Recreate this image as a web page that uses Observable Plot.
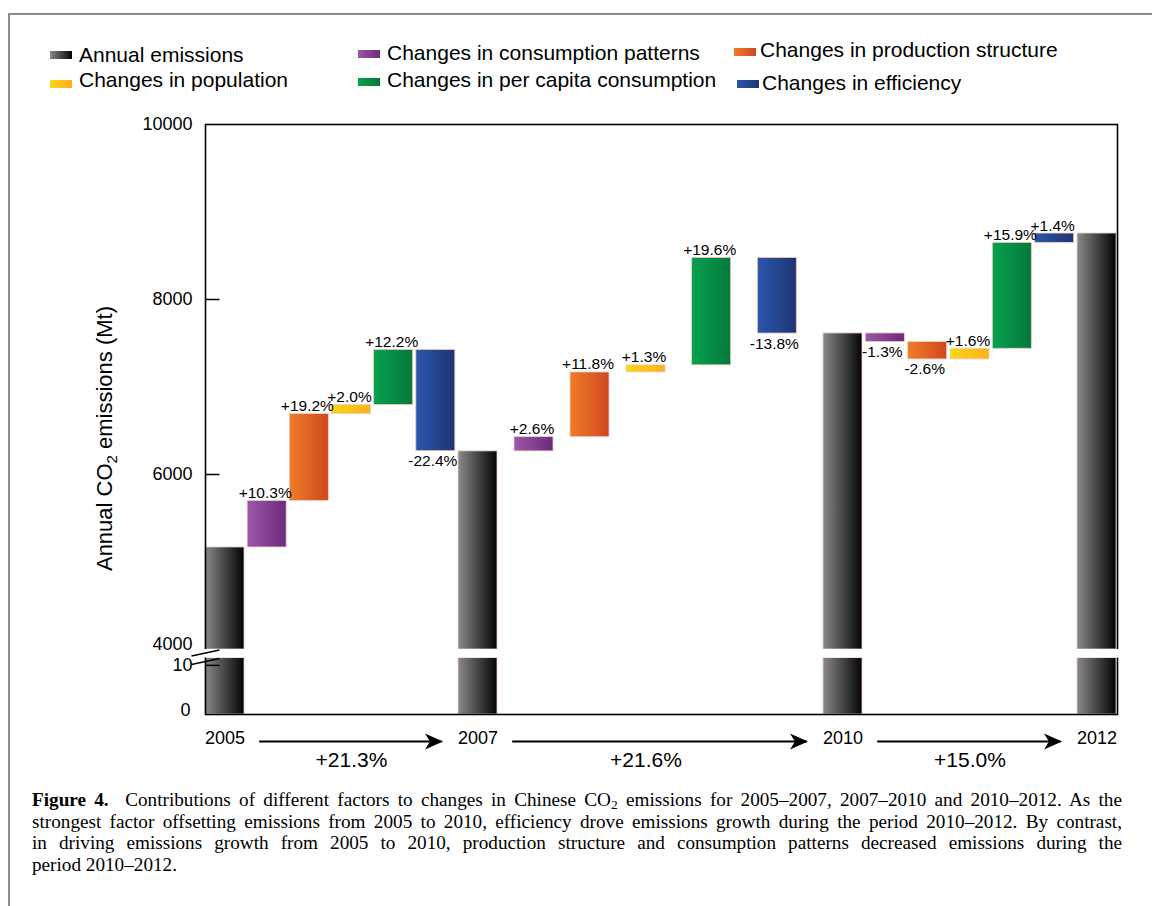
<!DOCTYPE html>
<html>
<head>
<meta charset="utf-8">
<script src="https://cdn.jsdelivr.net/npm/d3@7"></script>
<script src="https://cdn.jsdelivr.net/npm/@observablehq/plot@0.6"></script>
<style>
  html, body { margin: 0; padding: 0; background: #fff; }
  body { width: 1152px; height: 906px; position: relative; overflow: hidden; font-family: "Liberation Sans", Arial, sans-serif; color: #000; }
  #border { position: absolute; left: 8px; top: 13px; width: 1300px; height: 1000px; border-left: 2px solid #8c8c8c; border-top: 2px solid #8c8c8c; }
  .lg-sw { position: absolute; width: 22px; height: 8px; }
  .lg-tx { position: absolute; font-size: 21px; line-height: 20px; white-space: nowrap; }
  #chart { position: absolute; left: 0; top: 100px; }
  #caption { position: absolute; left: 32px; top: 789px; width: 1090px; font-family: "Liberation Serif", "DejaVu Serif", serif; font-size: 19.2px; line-height: 21.5px; }
  #caption div { text-align: justify; text-align-last: justify; white-space: nowrap; }
  #caption div.last { text-align-last: left; }
  #caption sub { font-size: 0.7em; line-height: 0; vertical-align: -0.25em; }
  #defs { position: absolute; width: 0; height: 0; }
</style>
</head>
<body>
<div id="border"></div>
<svg id="defs" width="0" height="0">
  <defs>
    <linearGradient id="g-annual" x1="0" x2="1" y1="0" y2="0"><stop offset="0" stop-color="#8a8a8a"/><stop offset="1" stop-color="#030303"/></linearGradient>
    <linearGradient id="g-consumption" x1="0" x2="1" y1="0" y2="0"><stop offset="0" stop-color="#9b57a8"/><stop offset="1" stop-color="#6b2a7b"/></linearGradient>
    <linearGradient id="g-production" x1="0" x2="1" y1="0" y2="0"><stop offset="0" stop-color="#ef7d2a"/><stop offset="1" stop-color="#d0471f"/></linearGradient>
    <linearGradient id="g-population" x1="0" x2="1" y1="0" y2="0"><stop offset="0" stop-color="#f8d817"/><stop offset="1" stop-color="#fbb01c"/></linearGradient>
    <linearGradient id="g-percapita" x1="0" x2="1" y1="0" y2="0"><stop offset="0" stop-color="#05a14e"/><stop offset="1" stop-color="#06773c"/></linearGradient>
    <linearGradient id="g-efficiency" x1="0" x2="1" y1="0" y2="0"><stop offset="0" stop-color="#2a56ab"/><stop offset="1" stop-color="#1e3473"/></linearGradient>
  </defs>
</svg>
<div id="legend"></div>
<div id="chart"></div>
<div id="caption">
  <div><b>Figure 4.</b>&nbsp; Contributions of different factors to changes in Chinese CO<sub>2</sub> emissions for 2005–2007, 2007–2010 and 2010–2012. As the</div>
  <div>strongest factor offsetting emissions from 2005 to 2010, efficiency drove emissions growth during the period 2010–2012. By contrast,</div>
  <div>in driving emissions growth from 2005 to 2010, production structure and consumption patterns decreased emissions during the</div>
  <div class="last">period 2010–2012.</div>
</div>
<script>
// ---------------- data ----------------
const years = ["2005", "2007", "2010", "2012"];
const annualEmissions = [5166, 6264, 7612, 8754]; // Mt
// percentage contributions per period (2005–07, 2007–10, 2010–12)
const consumptionPatterns = [10.3, 2.6, -1.3];
const productionStructure = [19.2, 11.8, -2.6];
const population = [2.0, 1.3, 1.6];
const perCapitaConsumption = [12.2, 19.6, 15.9];
const efficiency = [-22.4, -13.8, 1.4];
const periodTotals = [21.3, 21.6, 15.0];
const yTickLabels = [10000, 8000, 6000, 4000, 10, 0];
const legendLabels = ["Annual emissions", "Changes in population", "Changes in consumption patterns",
  "Changes in per capita consumption", "Changes in production structure", "Changes in efficiency"];
const legendKeys = ["annual", "population", "consumption", "percapita", "production", "efficiency"];

// ---------------- derived tables ----------------
const factorSeries = [
  {key: "consumption", values: consumptionPatterns},
  {key: "production", values: productionStructure},
  {key: "population", values: population},
  {key: "percapita", values: perCapitaConsumption},
  {key: "efficiency", values: efficiency}
];
const annualRows = years.map((year, i) => ({slot: 6 * i, year, value: annualEmissions[i]}));
const factorRows = [];
for (let p = 0; p < 3; p++) {
  let level = annualEmissions[p];
  factorSeries.forEach((f, k) => {
    const pct = f.values[p];
    const next = level + pct / 100 * annualEmissions[p];
    factorRows.push({slot: 6 * p + k + 1, key: f.key, pct, top: Math.max(level, next), bottom: Math.min(level, next)});
    level = next;
  });
}
const periodRows = periodTotals.map((t, p) => ({from: 6 * p, to: 6 * p + 6, total: t}));
const fmtPct = v => (v > 0 ? "+" : "-") + Math.abs(v).toFixed(1) + "%";

// ---------------- legend ----------------
const legendPos = [
  {sx: 50, sy: 51, tx: 79, ty: 45},
  {sx: 50, sy: 80, tx: 79, ty: 70},
  {sx: 358, sy: 50, tx: 387, ty: 43},
  {sx: 358, sy: 78, tx: 387, ty: 70},
  {sx: 734, sy: 48, tx: 760, ty: 40},
  {sx: 737, sy: 80, tx: 762, ty: 73}
];
const grad = {
  annual: ["#8a8a8a", "#030303"], consumption: ["#9b57a8", "#6b2a7b"], production: ["#ef7d2a", "#d0471f"],
  population: ["#f8d817", "#fbb01c"], percapita: ["#05a14e", "#06773c"], efficiency: ["#2a56ab", "#1e3473"]
};
const lg = document.getElementById("legend");
legendLabels.forEach((label, i) => {
  const pos = legendPos[i], g = grad[legendKeys[i]];
  const sw = document.createElement("div");
  sw.className = "lg-sw";
  sw.style.left = pos.sx + "px"; sw.style.top = pos.sy + "px";
  sw.style.background = `linear-gradient(to right, ${g[0]}, ${g[1]})`;
  lg.appendChild(sw);
  const tx = document.createElement("div");
  tx.className = "lg-tx";
  tx.style.left = pos.tx + "px"; tx.style.top = pos.ty + "px";
  tx.textContent = label;
  lg.appendChild(tx);
});

// ---------------- chart ----------------
const W = 1152, H = 680;
const half = 19.5;
const lowerTop = 11.5; // top of the lower axis segment below the break
const tickSymbol = {draw(ctx) { ctx.moveTo(0, 0); ctx.lineTo(14, 0); }};
const slashSymbol = {draw(ctx) { ctx.moveTo(-14, 3); ctx.lineTo(14, -3); }};
const headSymbol = {draw(ctx) { ctx.moveTo(2, 0); ctx.lineTo(-16, -8); ctx.lineTo(-11, 0); ctx.lineTo(-16, 8); ctx.closePath(); }};
const barStroke = "#f0cdbd";

const chart = Plot.plot({
  width: W,
  height: H,
  marginLeft: 205,
  marginRight: 35,
  marginTop: 24,
  marginBottom: 66,
  style: {fontFamily: "'Liberation Sans', Arial, sans-serif", background: "transparent", color: "#000"},
  x: {type: "linear", domain: [0, 6, 9, 12, 18], range: [224.5, 477.5, 645.5, 842.5, 1096.5], axis: null},
  y: {type: "linear", domain: [0, lowerTop, 4000, 10000], range: [614, 557.5, 549, 24], axis: null},
  color: {type: "identity"},
  marks: [
    // annual emissions bars (upper and lower segments)
    Plot.rect(annualRows, {x1: "slot", x2: "slot", y1: 4000, y2: "value", insetLeft: -half, insetRight: -half,
      fill: "url(#g-annual)", stroke: barStroke, strokeWidth: 0.8}),
    Plot.rect(annualRows, {x1: "slot", x2: "slot", y1: 0, y2: lowerTop, insetLeft: -half, insetRight: -half,
      fill: "url(#g-annual)", stroke: barStroke, strokeWidth: 0.8}),
    // factor bars
    Plot.rect(factorRows, {x1: "slot", x2: "slot", y1: "bottom", y2: "top", insetLeft: -half, insetRight: -half,
      fill: d => `url(#g-${d.key})`, stroke: barStroke, strokeWidth: 0.8}),
    // percentage labels
    Plot.text(factorRows.filter(d => d.pct > 0), {x: "slot", y: "top", text: d => fmtPct(d.pct),
      lineAnchor: "bottom", dy: -3, dx: -2, fontSize: 15.5, fill: "#000"}),
    Plot.text(factorRows.filter(d => d.pct < 0), {x: "slot", y: "bottom", text: d => fmtPct(d.pct),
      lineAnchor: "top", dy: 4, dx: -3, fontSize: 15.5, fill: "#000"}),
    // frame
    Plot.frame({stroke: "#000", strokeWidth: 1.6}),
    // axis break
    Plot.rect([0], {y1: lowerTop, y2: 4000, fill: "white", insetLeft: -5, insetRight: -5}),
    Plot.dot([4000, lowerTop], {frameAnchor: "left", y: d => d, dy: 3.5, symbol: slashSymbol, fill: "none", stroke: "#000", strokeWidth: 1.5}),
    // y ticks
    Plot.dot([8000, 6000, 10], {frameAnchor: "left", y: d => d, symbol: tickSymbol, fill: "none", stroke: "#000", strokeWidth: 1.5}),
    // y tick labels
    Plot.text(yTickLabels.filter(v => v !== 4000 && v !== 0), {frameAnchor: "left", y: d => d, text: d => String(d), dx: -13, textAnchor: "end", fontSize: 18, fill: "#000"}),
    Plot.text(yTickLabels.filter(v => v === 4000), {frameAnchor: "left", y: d => d, text: d => String(d), dx: -13, dy: -5, textAnchor: "end", fontSize: 18, fill: "#000"}),
    Plot.text(yTickLabels.filter(v => v === 0), {frameAnchor: "left", y: d => d, text: d => String(d), dx: -15, dy: -4, textAnchor: "end", fontSize: 18, fill: "#000"}),
    // y axis title
    Plot.text(["Annual CO2 emissions (Mt)"], {frameAnchor: "left", text: d => d, textAnchor: "middle", dx: -101, dy: 19, rotate: -90, fontSize: 22, fill: "#000", className: "ylabel"}),
    // year labels
    Plot.text(annualRows, {x: "slot", y: 0, text: "year", dy: 24, fontSize: 18, fill: "#000"}),
    // period arrows
    Plot.arrow(periodRows, {x1: "from", x2: "to", y1: 0, y2: 0, dy: 27, insetStart: 35, insetEnd: 37, headLength: 0, stroke: "#000", strokeWidth: 2.2}),
    Plot.dot(periodRows, {x: "to", y: 0, dy: 27, dx: -37, symbol: headSymbol, fill: "#000", stroke: "none"}),
    Plot.text(periodRows, {x: d => (d.from + d.to) / 2, y: 0, dy: 46, text: d => fmtPct(d.total), fontSize: 21, fill: "#000"})
  ]
});
document.getElementById("chart").appendChild(chart);

// subscript in the y-axis title
const yl = d3.select(chart).select(".ylabel text");
if (!yl.empty()) {
  yl.text(null);
  yl.append("tspan").text("Annual CO");
  yl.append("tspan").attr("dy", 5).attr("font-size", 15).text("2");
  yl.append("tspan").attr("dy", -5).text(" emissions (Mt)");
}
</script>
</body>
</html>
